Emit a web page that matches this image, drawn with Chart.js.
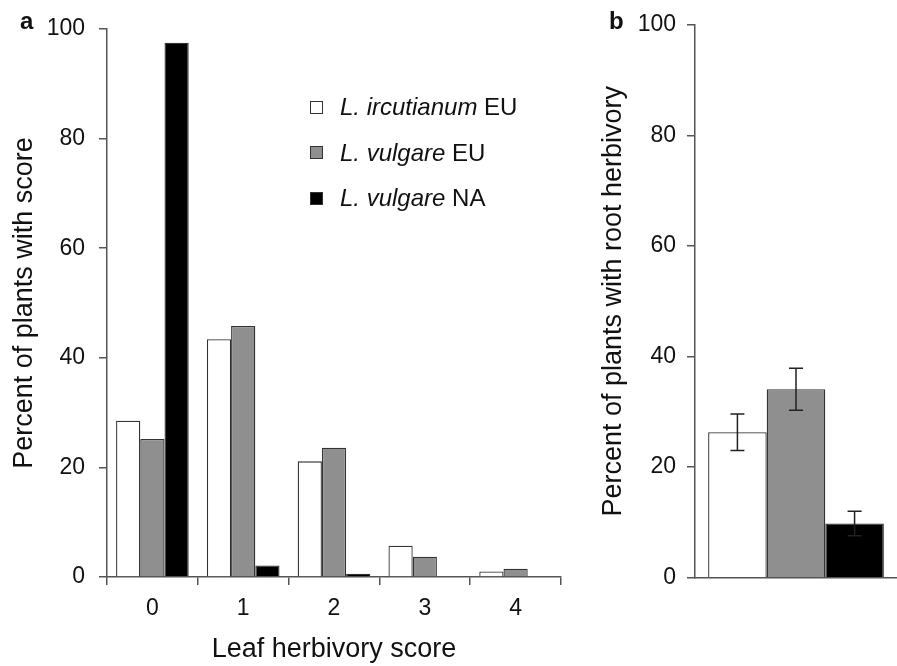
<!DOCTYPE html>
<html lang="en">
  <head>
    <meta charset="UTF-8" />
    <title>Leaf and root herbivory</title>
    <script src="https://cdn.jsdelivr.net/npm/chart.js"></script>
    <style>
      body {
        margin: 0;
        background: #fff;
        font-family: "Liberation Sans", Arial, sans-serif;
        color: #111;
      }
      #wrap {
        position: relative;
        width: 897px;
        height: 666px;
        overflow: hidden;
      }
      .panel {
        position: absolute;
        top: 0;
        height: 666px;
      }
      #panel-a { left: 0; width: 600px; }
      #panel-b { left: 590px; width: 307px; }
      .tag {
        position: absolute;
        font-weight: bold;
        font-size: 24px;
        line-height: 24px;
        top: 9px;
      }
      #legend {
        position: absolute;
        left: 310px;
        top: 94px;
        font-size: 24px;
      }
      #legend .row {
        display: flex;
        align-items: center;
        height: 26px;
        line-height: 26px;
        margin-bottom: 19.7px;
        white-space: nowrap;
      }
      #legend .box {
        width: 11px;
        height: 11px;
        border: 1px solid #333;
        margin-right: 17px;
      }
    </style>
  </head>
  <body>
    <div id="wrap">
      <div class="panel" id="panel-a"><canvas id="leaf-chart"></canvas></div>
      <div class="panel" id="panel-b"><canvas id="root-chart"></canvas></div>
      <div class="tag" style="left: 20px">a</div>
      <div class="tag" style="left: 609px">b</div>
      <div id="legend"></div>
    </div>

    <script>
      // values
      const scores = ["0", "1", "2", "3", "4"];
      const seriesGenus = ["L. ircutianum", "L. vulgare", "L. vulgare"];
      const seriesRegion = ["EU", "EU", "NA"];
      const seriesFill = ["#ffffff", "#8f8f8f", "#000000"];
      const leafIrcutianumEU = [28.5, 43.4, 21.1, 5.7, 1.0];
      const leafVulgareEU = [25.2, 45.8, 23.6, 3.7, 1.5];
      const leafVulgareNA = [97.5, 2.1, 0.6, 0, 0];
      const rootPercent = [26.3, 34.1, 9.8];
      const rootError = [3.3, 3.8, 2.2];
      const yTicks = [0, 20, 40, 60, 80, 100];

      Chart.defaults.font.family = '"Liberation Sans", Arial, sans-serif';
      Chart.defaults.color = "#111";

      const axisColor = "#555";
      const leafSeries = [leafIrcutianumEU, leafVulgareEU, leafVulgareNA];

      function yScale(width, pad) {
        return {
          min: 0,
          max: 100,
          afterBuildTicks: (s) => {
            s.ticks = yTicks.map((v) => ({ value: v }));
          },
          afterFit: (s) => {
            s.width = width;
          },
          ticks: { font: { size: 23 }, padding: pad },
          grid: {
            drawOnChartArea: false,
            tickLength: 8,
            color: axisColor,
            lineWidth: 1.5,
          },
          border: { color: axisColor, width: 1.5 },
        };
      }

      // panel a: leaf herbivory score distribution
      const leafChart = new Chart(document.getElementById("leaf-chart"), {
        type: "bar",
        data: {
          labels: scores,
          datasets: leafSeries.map((vals, i) => ({
            label: seriesGenus[i] + " " + seriesRegion[i],
            data: vals,
            backgroundColor: seriesFill[i],
            borderColor: "#333",
            borderWidth: 1.3,
            categoryPercentage: 0.8,
            barPercentage: 1.0,
          })),
        },
        options: {
          responsive: true,
          maintainAspectRatio: false,
          animation: false,
          layout: { padding: { top: 29, right: 39, left: 0, bottom: 0 } },
          plugins: { legend: { display: false }, tooltip: { enabled: false } },
          scales: {
            x: {
              afterFit: (s) => {
                s.height = 89;
              },
              ticks: { font: { size: 23 }, padding: 10 },
              grid: {
                offset: true,
                drawOnChartArea: false,
                tickLength: 8,
                color: axisColor,
                lineWidth: 1.5,
              },
              border: { color: axisColor, width: 1.5 },
              title: {
                display: true,
                text: "Leaf herbivory score",
                font: { size: 27 },
                padding: { top: 0, bottom: 0 },
              },
            },
            y: Object.assign(yScale(107, 14), {
              title: {
                display: true,
                text: "Percent of plants with score",
                font: { size: 27 },
                padding: { top: 8, bottom: 0 },
              },
            }),
          },
        },
      });

      // error bars for panel b
      const errorBars = {
        id: "errorBars",
        afterDatasetsDraw(chart) {
          const { ctx } = chart;
          const y = chart.scales.y;
          ctx.save();
          ctx.strokeStyle = "#222";
          ctx.lineWidth = 1.5;
          chart.data.datasets.forEach((ds, i) => {
            const bar = chart.getDatasetMeta(i).data[0];
            const v = ds.data[0];
            const e = rootError[i];
            const top = y.getPixelForValue(v + e);
            const bot = y.getPixelForValue(v - e);
            ctx.beginPath();
            ctx.moveTo(bar.x, top);
            ctx.lineTo(bar.x, bot);
            ctx.moveTo(bar.x - 7, top);
            ctx.lineTo(bar.x + 7, top);
            ctx.moveTo(bar.x - 7, bot);
            ctx.lineTo(bar.x + 7, bot);
            ctx.stroke();
          });
          ctx.restore();
        },
      };

      // panel b: root herbivory
      new Chart(document.getElementById("root-chart"), {
        type: "bar",
        data: {
          labels: [""],
          datasets: rootPercent.map((v, i) => ({
            label: seriesGenus[i] + " " + seriesRegion[i],
            data: [v],
            backgroundColor: seriesFill[i],
            borderColor: "#333",
            borderWidth: 1.3,
            categoryPercentage: 0.87,
            barPercentage: 1.0,
          })),
        },
        options: {
          responsive: true,
          maintainAspectRatio: false,
          animation: false,
          layout: { padding: { top: 22, right: 0, left: 0, bottom: 0 } },
          plugins: { legend: { display: false }, tooltip: { enabled: false } },
          scales: {
            x: {
              afterFit: (s) => {
                s.height = 88.3;
              },
              ticks: { display: false },
              grid: { display: false },
              border: { color: axisColor, width: 1.5 },
            },
            y: Object.assign(yScale(105, 11), {
              title: {
                display: true,
                text: "Percent of plants with root herbivory",
                font: { size: 27 },
                padding: { top: 7, bottom: 0 },
              },
            }),
          },
        },
        plugins: [errorBars],
      });

      // legend with italic species names
      const legend = document.getElementById("legend");
      leafChart.data.datasets.forEach((ds, i) => {
        const row = document.createElement("div");
        row.className = "row";
        const box = document.createElement("span");
        box.className = "box";
        box.style.background = ds.backgroundColor;
        const name = document.createElement("i");
        name.textContent = seriesGenus[i];
        row.appendChild(box);
        row.appendChild(name);
        row.appendChild(document.createTextNode("\u00a0" + seriesRegion[i]));
        legend.appendChild(row);
      });
    </script>
  </body>
</html>
